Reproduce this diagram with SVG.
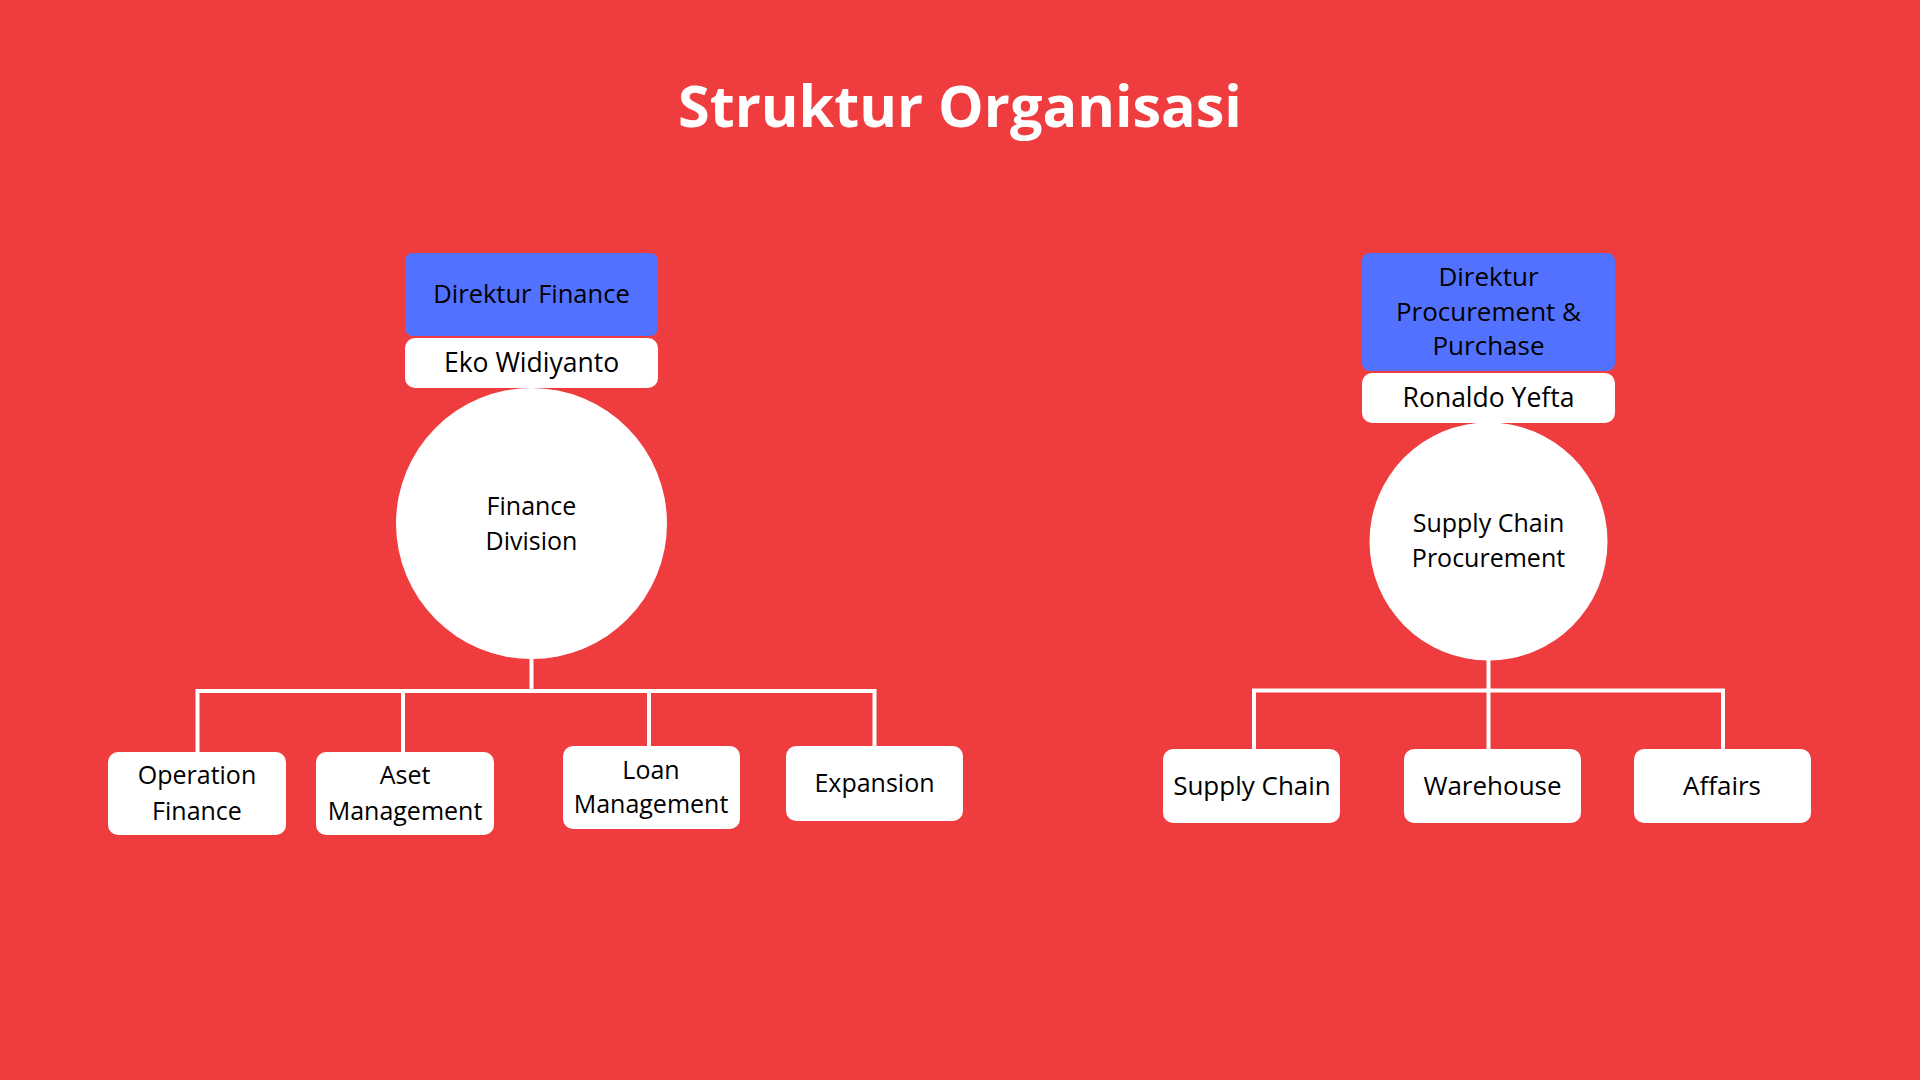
<svg xmlns="http://www.w3.org/2000/svg" width="1920" height="1080" viewBox="0 0 1920 1080">
<style>
.t{font-family:"Open Sans","Noto Sans","Liberation Sans",sans-serif;fill:#000;text-anchor:middle;font-size:25px}
.h{font-size:26px}
.n{font-size:26.5px}
.title{font-family:"Open Sans","Noto Sans","Liberation Sans",sans-serif;font-weight:bold;fill:#fff;text-anchor:middle;font-size:57.5px}
.blue{fill:#5271FF}
.wb{fill:#fff}
.ln{stroke:#fff;stroke-width:4;fill:none}
</style>
<rect width="1920" height="1080" fill="#EF3C3E"/>
<text class="title" x="960" y="126.5">Struktur Organisasi</text>
<g id="connectors">
<path class="ln" d="M531.5 659 V691 M196 691 H876 M197.5 689 V752 M403 691 V752 M649 691 V746 M874.5 689 V746"/>
<path class="ln" d="M1488.5 660 V690.5 M1252 690.5 H1725 M1254 688.5 V749 M1488.5 690.5 V749 M1723 688.5 V749"/>
</g>
<g id="dir-finance"><rect class="blue" x="405" y="253" width="253" height="83" rx="8"/><text class="t" x="531.5" y="303" style="font-size:25.5px">Direktur Finance</text></g>
<g id="eko"><rect class="wb" x="405" y="338" width="253" height="50" rx="10"/><text class="t n" x="531.5" y="372">Eko Widiyanto</text></g>
<g id="finance-division"><circle class="wb" cx="531.5" cy="523.5" r="135.5"/><text class="t" x="531.5" y="515">Finance</text><text class="t" x="531.5" y="550">Division</text></g>
<g id="operation-finance"><rect class="wb" x="108" y="752" width="178" height="83" rx="10"/><text class="t" x="197" y="784">Operation</text><text class="t" x="197" y="820">Finance</text></g>
<g id="aset-management"><rect class="wb" x="316" y="752" width="178" height="83" rx="10"/><text class="t" x="405" y="784">Aset</text><text class="t" x="405" y="820">Management</text></g>
<g id="loan-management"><rect class="wb" x="563" y="746" width="177" height="83" rx="10"/><text class="t" x="651" y="779">Loan</text><text class="t" x="651" y="813">Management</text></g>
<g id="expansion"><rect class="wb" x="786" y="746" width="177" height="75" rx="10"/><text class="t" x="874.5" y="792">Expansion</text></g>
<g id="dir-procurement"><rect class="blue" x="1362" y="253" width="253" height="118" rx="8"/><text class="t h" x="1488.5" y="286">Direktur</text><text class="t h" x="1488.5" y="321">Procurement &amp;</text><text class="t h" x="1488.5" y="355">Purchase</text></g>
<g id="ronaldo"><rect class="wb" x="1362" y="373" width="253" height="50" rx="10"/><text class="t n" x="1488.5" y="407">Ronaldo Yefta</text></g>
<g id="supply-chain-procurement"><circle class="wb" cx="1488.5" cy="541.5" r="119"/><text class="t" x="1488.5" y="532">Supply Chain</text><text class="t" x="1488.5" y="567">Procurement</text></g>
<g id="supply-chain"><rect class="wb" x="1163" y="749" width="177" height="74" rx="10"/><text class="t h" x="1252" y="795">Supply Chain</text></g>
<g id="warehouse"><rect class="wb" x="1404" y="749" width="177" height="74" rx="10"/><text class="t h" x="1492.5" y="795">Warehouse</text></g>
<g id="affairs"><rect class="wb" x="1634" y="749" width="177" height="74" rx="10"/><text class="t h" x="1722" y="795">Affairs</text></g>
</svg>
